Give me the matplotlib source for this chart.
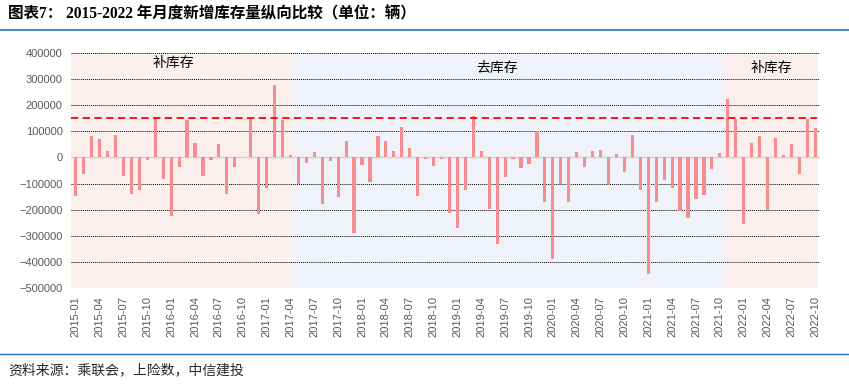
import matplotlib.pyplot as plt
import numpy as np

plt.rcParams['font.family'] = ['Liberation Sans', 'Noto Sans CJK SC', 'DejaVu Sans']

# 月份 2015-01 ~ 2022-10
months = ['%d-%02d' % (y, m) for y in range(2015, 2023) for m in range(1, 13)][:94]

# 月度新增库存量 (辆)
kucun = [-147000, -64000, 82000, 72000, 24000, 86000, -70000, -140000, -124000, -9000, 154000, -82000,
         -224000, -36000, 144000, 56000, -70000, -10000, 53000, -140000, -36000, 3000, 149000, -217000,
         -117000, 278000, 144000, 9000, -100000, -20000, 20000, -179000, -13000, -151000, 63000, -290000,
         -28000, -95000, 82000, 63000, 24000, 117000, 36000, -147000, -5000, -33000, -5000, -214000,
         -270000, -126000, 158000, 24000, -199000, -332000, -74000, -5000, -40000, -24000, 101000, -171000,
         -390000, -100000, -171000, 20000, -36000, 24000, 28000, -105000, 13000, -55000, 86000, -124000,
         -447000, -171000, -86000, -117000, -205000, -232000, -159000, -144000, -44000, 17000, 224000, 149000,
         -255000, 55000, 82000, -203000, 74000, 9000, 51000, -63000, 149000, 113000]

# 补库存 / 去库存 区间 (月份序号)
jieduan = [(0, 27, '补库存'), (28, 81, '去库存'), (82, 93, '补库存')]
jieduan_color = {'补库存': '#FBEFED', '去库存': '#EFF3F9'}
biaozhun = 151000

fig = plt.figure(figsize=(8.49, 3.85), dpi=100)
ax = fig.add_axes([71 / 849, 1 - 288 / 385, 749 / 849, 235 / 385])

x = np.arange(len(months))
for a, b, name in jieduan:
    ax.axvspan(a - 0.55, min(b + 0.45, 93.3), ymin=0, ymax=1,
               color=jieduan_color[name], zorder=0, lw=0)
ax.text(12.3, 361000, '补库存', ha='center', va='center', fontsize=10, family='Noto Sans CJK SC')
ax.text(53.0, 342000, '去库存', ha='center', va='center', fontsize=10, family='Noto Sans CJK SC')
ax.text(87.5, 342000, '补库存', ha='center', va='center', fontsize=10, family='Noto Sans CJK SC')

ax.bar(x, kucun, width=0.4, color='#F58C8E', zorder=3)
ax.axhline(0, color='#D0D0D0', lw=1, zorder=2)
ax.axhline(biaozhun, xmax=0.996, color='#FF0000', lw=1.3, ls=(0, (4, 2.5)), zorder=4)

ax.set_ylim(-500000, 400000)
ax.set_xlim(-0.6, 93.6)
ax.set_yticks(np.arange(-500000, 400001, 100000))
ax.yaxis.grid(True, color='black', ls=(0, (1, 1)), lw=0.7, zorder=1)
ax.set_axisbelow(True)
ax.set_xticks(x[::3])
ax.set_xticklabels(months[::3], rotation=90)
ax.tick_params(length=0, labelsize=8, colors='#595959', pad=6)
for s in ax.spines.values():
    s.set_visible(False)

fig.text(8 / 849, 1 - 14 / 385, '图表7： 2015-2022 年月度新增库存量纵向比较（单位：辆）',
         fontsize=11.2, fontweight='bold', va='center', family=['Liberation Serif', 'Noto Sans CJK SC'])
fig.add_artist(plt.Line2D([0, 1], [1 - 30 / 385, 1 - 30 / 385], color='#1F72C0', lw=1.2))
fig.add_artist(plt.Line2D([0, 1], [1 - 354 / 385, 1 - 354 / 385], color='#1F72C0', lw=1))
fig.text(8 / 849, 1 - 370 / 385, '资料来源：乘联会，上险数，中信建投',
         fontsize=10, style='italic', va='center', color='#262626', family='Noto Sans CJK SC')

plt.savefig('out.png', dpi=100)
